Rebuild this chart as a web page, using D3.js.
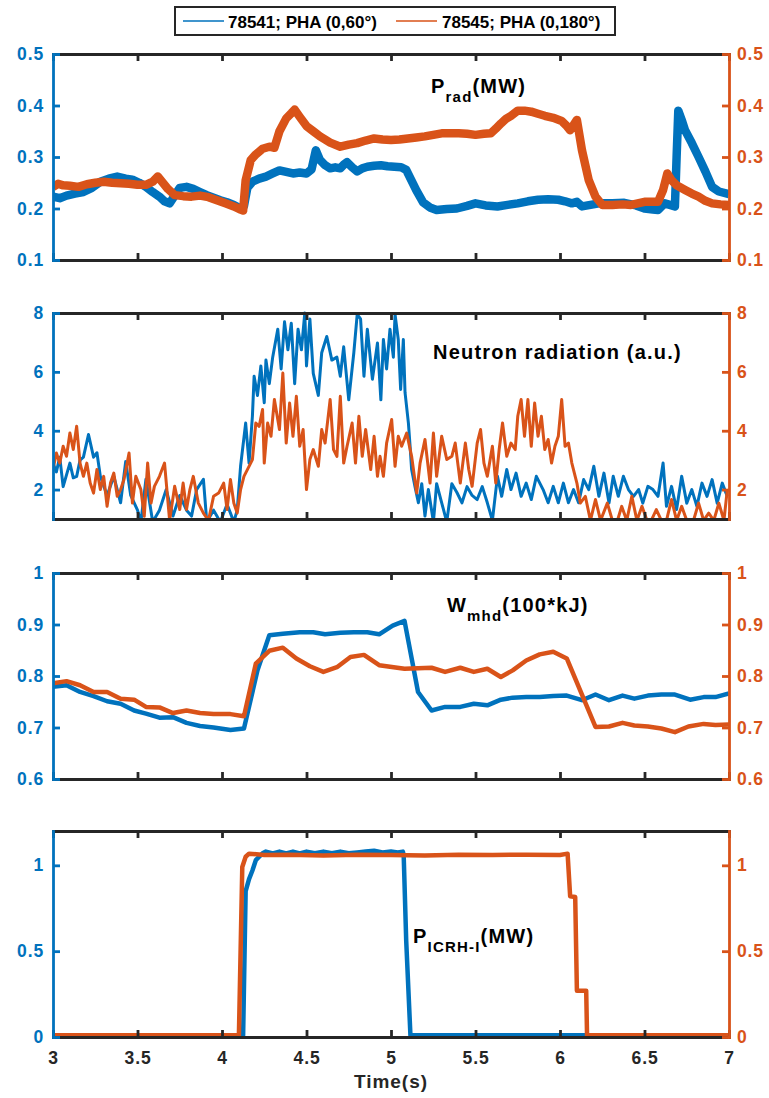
<!DOCTYPE html>
<html>
<head>
<meta charset="utf-8">
<script src="https://cdn.jsdelivr.net/npm/d3@7"></script>
<style>
  body { margin: 0; background: #fff; }
  svg text { font-family: "Liberation Sans", Arial, sans-serif; font-weight: bold; }
</style>
</head>
<body>
<svg id="fig" width="769" height="1098"></svg>
<script>
// shot labels
var shotNames = ['78541; PHA (0,60°)', '78545; PHA (0,180°)'];
var timeTicks = [3, 3.5, 4, 4.5, 5, 5.5, 6, 6.5, 7];

// P_rad (MW)
var prad78541 = [[3.00,0.223],[3.04,0.220],[3.08,0.225],[3.13,0.229],[3.18,0.232],[3.23,0.240],[3.28,0.252],[3.33,0.258],[3.38,0.262],[3.43,0.258],[3.47,0.256],[3.51,0.250],[3.55,0.242],[3.59,0.232],[3.63,0.223],[3.66,0.214],[3.69,0.210],[3.72,0.225],[3.75,0.240],[3.79,0.242],[3.83,0.238],[3.87,0.232],[3.91,0.226],[3.95,0.221],[3.99,0.216],[4.03,0.212],[4.07,0.207],[4.11,0.200],[4.13,0.205],[4.15,0.240],[4.18,0.252],[4.22,0.258],[4.26,0.262],[4.30,0.268],[4.34,0.274],[4.38,0.271],[4.42,0.268],[4.46,0.270],[4.50,0.268],[4.53,0.276],[4.555,0.313],[4.58,0.294],[4.61,0.284],[4.64,0.278],[4.67,0.280],[4.70,0.278],[4.72,0.285],[4.74,0.290],[4.77,0.280],[4.80,0.272],[4.83,0.278],[4.86,0.281],[4.90,0.283],[4.94,0.284],[4.98,0.282],[5.02,0.281],[5.06,0.280],[5.09,0.275],[5.12,0.255],[5.15,0.235],[5.19,0.212],[5.23,0.202],[5.27,0.197],[5.33,0.199],[5.39,0.200],[5.45,0.205],[5.50,0.210],[5.56,0.206],[5.63,0.204],[5.69,0.207],[5.75,0.210],[5.81,0.214],[5.87,0.217],[5.93,0.218],[5.99,0.217],[6.03,0.214],[6.07,0.210],[6.10,0.213],[6.13,0.204],[6.18,0.207],[6.23,0.210],[6.31,0.210],[6.38,0.211],[6.45,0.206],[6.50,0.200],[6.55,0.198],[6.58,0.197],[6.62,0.210],[6.66,0.206],[6.68,0.204],[6.69,0.300],[6.70,0.390],[6.72,0.372],[6.74,0.352],[6.78,0.327],[6.82,0.300],[6.86,0.272],[6.90,0.242],[6.94,0.233],[7.00,0.228]];
var prad78545 = [[3.00,0.242],[3.03,0.248],[3.06,0.245],[3.10,0.244],[3.15,0.242],[3.20,0.247],[3.25,0.250],[3.30,0.252],[3.35,0.250],[3.40,0.249],[3.45,0.248],[3.50,0.246],[3.55,0.246],[3.59,0.252],[3.62,0.262],[3.65,0.250],[3.68,0.238],[3.72,0.226],[3.77,0.224],[3.82,0.223],[3.87,0.225],[3.92,0.222],[3.97,0.216],[4.02,0.210],[4.07,0.204],[4.11,0.198],[4.125,0.196],[4.14,0.255],[4.17,0.294],[4.20,0.305],[4.24,0.316],[4.28,0.320],[4.31,0.318],[4.34,0.350],[4.38,0.375],[4.41,0.385],[4.43,0.392],[4.46,0.378],[4.50,0.360],[4.54,0.350],[4.58,0.340],[4.64,0.328],[4.70,0.320],[4.75,0.324],[4.80,0.327],[4.85,0.332],[4.90,0.336],[4.95,0.334],[5.00,0.333],[5.05,0.334],[5.10,0.336],[5.15,0.338],[5.20,0.340],[5.25,0.343],[5.30,0.346],[5.35,0.346],[5.40,0.346],[5.45,0.345],[5.50,0.343],[5.55,0.345],[5.59,0.346],[5.62,0.355],[5.65,0.365],[5.68,0.374],[5.71,0.380],[5.75,0.390],[5.79,0.390],[5.83,0.388],[5.87,0.384],[5.91,0.380],[5.96,0.376],[6.01,0.370],[6.04,0.360],[6.06,0.352],[6.08,0.362],[6.10,0.372],[6.13,0.313],[6.17,0.255],[6.21,0.223],[6.25,0.207],[6.31,0.207],[6.37,0.208],[6.42,0.207],[6.46,0.210],[6.50,0.213],[6.55,0.213],[6.58,0.213],[6.61,0.236],[6.635,0.268],[6.66,0.255],[6.69,0.245],[6.74,0.236],[6.78,0.229],[6.82,0.223],[6.86,0.215],[6.90,0.210],[6.95,0.208],[7.00,0.207]];
var pradTicks = [0.1, 0.2, 0.3, 0.4, 0.5];

// Neutron radiation (a.u.)
var neut78541 = [[3.00,2.9],[3.02,2.6],[3.04,3.1],[3.06,2.1],[3.08,2.5],[3.10,2.9],[3.12,2.4],[3.14,2.45],[3.16,3.0],[3.18,3.1],[3.21,3.87],[3.24,3.1],[3.26,3.25],[3.28,2.45],[3.32,1.8],[3.36,2.45],[3.40,1.55],[3.43,2.95],[3.46,1.8],[3.50,1.3],[3.52,0.9],[3.55,2.35],[3.59,0.9],[3.63,1.3],[3.67,2.0],[3.71,1.1],[3.75,1.8],[3.79,1.3],[3.82,1.1],[3.85,2.0],[3.89,2.35],[3.91,0.9],[3.95,1.3],[3.99,0.9],[4.03,1.5],[4.07,0.9],[4.09,1.3],[4.11,2.8],[4.14,4.26],[4.16,2.9],[4.18,4.5],[4.19,5.85],[4.21,5.2],[4.23,6.2],[4.25,4.95],[4.26,6.4],[4.28,5.6],[4.30,6.5],[4.33,7.45],[4.35,6.1],[4.37,7.7],[4.39,6.75],[4.41,7.65],[4.43,5.6],[4.45,7.45],[4.47,6.75],[4.49,8.0],[4.50,6.2],[4.52,7.8],[4.54,5.95],[4.57,5.2],[4.59,6.65],[4.62,7.2],[4.65,6.4],[4.68,6.5],[4.70,5.85],[4.72,6.85],[4.75,5.05],[4.78,6.65],[4.80,7.95],[4.82,7.8],[4.84,5.85],[4.86,7.45],[4.89,5.75],[4.92,6.98],[4.94,5.05],[4.955,7.1],[4.974,6.1],[4.994,7.45],[5.014,6.5],[5.024,7.95],[5.043,7.1],[5.057,5.4],[5.073,7.1],[5.083,5.3],[5.103,4.26],[5.113,3.47],[5.122,2.68],[5.142,2.1],[5.162,1.55],[5.182,2.2],[5.201,1.1],[5.221,2.0],[5.251,0.9],[5.27,2.2],[5.30,1.55],[5.33,0.9],[5.36,2.2],[5.39,1.9],[5.42,1.55],[5.45,2.1],[5.48,1.8],[5.51,1.66],[5.54,2.1],[5.57,1.55],[5.60,0.95],[5.63,2.45],[5.655,1.77],[5.685,2.68],[5.71,2.0],[5.74,2.56],[5.77,1.77],[5.80,2.22],[5.83,1.66],[5.86,2.45],[5.90,2.0],[5.93,1.55],[5.96,2.11],[5.99,1.55],[6.02,2.22],[6.05,1.55],[6.08,2.0],[6.11,1.55],[6.14,2.34],[6.17,2.0],[6.20,2.79],[6.23,1.77],[6.26,2.56],[6.29,1.54],[6.315,2.45],[6.345,1.77],[6.375,2.45],[6.405,2.0],[6.435,1.77],[6.465,2.0],[6.49,1.54],[6.52,2.11],[6.55,2.0],[6.58,1.77],[6.61,2.9],[6.63,1.43],[6.66,2.11],[6.69,1.32],[6.72,2.45],[6.75,1.54],[6.78,2.0],[6.81,1.43],[6.84,2.22],[6.87,1.77],[6.90,2.34],[6.93,1.54],[6.96,2.22],[6.99,1.77]];
var neut78545 = [[3.00,2.68],[3.02,3.24],[3.04,2.9],[3.06,3.47],[3.08,3.13],[3.10,3.92],[3.12,3.36],[3.14,4.15],[3.16,2.9],[3.18,2.45],[3.20,2.9],[3.22,2.22],[3.24,1.88],[3.26,2.68],[3.28,2.0],[3.30,2.45],[3.32,1.43],[3.34,2.22],[3.36,2.56],[3.38,1.77],[3.40,2.0],[3.42,2.34],[3.45,3.24],[3.47,1.54],[3.49,2.45],[3.52,2.0],[3.54,1.09],[3.56,2.9],[3.58,1.54],[3.60,2.11],[3.63,2.45],[3.66,2.9],[3.69,0.95],[3.72,2.11],[3.75,1.32],[3.77,2.22],[3.79,1.32],[3.81,2.0],[3.83,2.45],[3.86,1.54],[3.89,1.2],[3.92,0.95],[3.95,1.77],[3.98,1.88],[4.01,2.22],[4.03,1.32],[4.05,2.34],[4.07,1.54],[4.09,1.2],[4.11,2.0],[4.13,2.45],[4.16,2.79],[4.18,3.02],[4.20,4.26],[4.22,4.15],[4.24,4.72],[4.25,2.9],[4.27,4.26],[4.29,3.81],[4.31,5.06],[4.34,4.04],[4.36,5.96],[4.38,3.58],[4.40,4.94],[4.42,3.81],[4.44,5.17],[4.46,3.47],[4.48,4.04],[4.50,2.0],[4.52,3.02],[4.54,3.36],[4.57,2.79],[4.59,4.04],[4.61,3.58],[4.64,5.06],[4.66,3.36],[4.68,3.13],[4.70,5.17],[4.72,2.9],[4.74,3.47],[4.77,4.26],[4.79,2.9],[4.81,4.49],[4.83,3.13],[4.85,4.04],[4.88,2.68],[4.90,3.81],[4.92,2.45],[4.935,3.13],[4.955,2.45],[4.974,3.58],[5.004,4.38],[5.024,2.79],[5.043,3.81],[5.063,3.47],[5.093,3.92],[5.122,3.13],[5.152,1.88],[5.172,2.9],[5.201,3.7],[5.231,2.22],[5.251,3.92],[5.27,2.45],[5.30,3.81],[5.33,3.02],[5.36,3.13],[5.38,3.58],[5.41,2.22],[5.44,3.58],[5.46,2.68],[5.48,2.11],[5.51,3.58],[5.53,4.04],[5.55,2.9],[5.57,2.45],[5.60,3.47],[5.62,2.22],[5.64,3.36],[5.66,4.26],[5.685,3.13],[5.71,3.58],[5.735,3.36],[5.75,4.49],[5.77,5.06],[5.79,3.81],[5.81,5.06],[5.83,3.47],[5.85,4.94],[5.87,3.81],[5.89,4.49],[5.91,3.36],[5.93,3.7],[5.95,2.9],[5.97,3.47],[5.99,3.81],[6.01,5.06],[6.03,3.47],[6.05,3.58],[6.07,2.9],[6.10,2.22],[6.12,1.54],[6.15,1.77],[6.18,0.95],[6.21,1.66],[6.24,0.95],[6.28,1.54],[6.31,0.95],[6.34,0.95],[6.365,1.43],[6.395,0.95],[6.425,1.77],[6.455,0.95],[6.485,1.43],[6.515,0.95],[6.54,0.95],[6.57,1.32],[6.60,0.95],[6.63,0.95],[6.66,1.66],[6.69,0.95],[6.72,1.43],[6.75,0.95],[6.79,0.95],[6.82,1.54],[6.85,0.95],[6.88,1.2],[6.91,0.95],[6.94,1.54],[6.97,0.95],[6.99,2.0]];
var neutTicks = [2, 4, 6, 8];

// W_mhd (100*kJ)
var wmhd78541 = [[3.00,0.779],[3.08,0.782],[3.16,0.769],[3.24,0.761],[3.32,0.751],[3.40,0.746],[3.48,0.733],[3.55,0.727],[3.63,0.719],[3.71,0.720],[3.79,0.709],[3.87,0.703],[3.95,0.700],[4.05,0.695],[4.13,0.698],[4.21,0.811],[4.28,0.879],[4.36,0.882],[4.46,0.885],[4.54,0.885],[4.61,0.881],[4.70,0.884],[4.78,0.885],[4.86,0.885],[4.93,0.881],[5.01,0.898],[5.08,0.907],[5.16,0.769],[5.24,0.733],[5.32,0.740],[5.41,0.740],[5.49,0.746],[5.57,0.743],[5.65,0.754],[5.72,0.758],[5.80,0.759],[5.88,0.759],[5.96,0.761],[6.04,0.762],[6.13,0.753],[6.21,0.764],[6.29,0.753],[6.37,0.762],[6.44,0.756],[6.52,0.762],[6.60,0.764],[6.68,0.764],[6.77,0.754],[6.85,0.759],[6.92,0.759],[7.00,0.766]];
var wmhd78545 = [[3.00,0.786],[3.08,0.790],[3.16,0.782],[3.24,0.769],[3.32,0.769],[3.40,0.756],[3.48,0.754],[3.55,0.740],[3.63,0.739],[3.71,0.728],[3.79,0.733],[3.87,0.728],[3.95,0.726],[4.05,0.726],[4.13,0.722],[4.20,0.824],[4.28,0.849],[4.36,0.855],[4.44,0.834],[4.52,0.819],[4.60,0.808],[4.68,0.817],[4.76,0.837],[4.84,0.841],[4.93,0.821],[5.08,0.814],[5.16,0.815],[5.24,0.816],[5.32,0.808],[5.41,0.816],[5.49,0.808],[5.57,0.814],[5.65,0.798],[5.72,0.811],[5.80,0.830],[5.88,0.842],[5.96,0.847],[6.04,0.834],[6.21,0.701],[6.29,0.702],[6.37,0.709],[6.44,0.704],[6.52,0.702],[6.60,0.698],[6.68,0.691],[6.76,0.702],[6.85,0.707],[6.92,0.705],[7.00,0.706]];
var wmhdTicks = [0.6, 0.7, 0.8, 0.9, 1];

// P_ICRH-I (MW)
var icrh78541 = [[3.00,0.01],[4.125,0.01],[4.14,0.85],[4.16,0.92],[4.18,0.97],[4.20,1.03],[4.22,1.05],[4.24,1.07],[4.26,1.08],[4.30,1.07],[4.34,1.08],[4.38,1.07],[4.42,1.08],[4.46,1.07],[4.50,1.08],[4.55,1.07],[4.60,1.08],[4.65,1.07],[4.70,1.08],[4.75,1.07],[4.80,1.075],[4.85,1.08],[4.90,1.085],[4.95,1.075],[5.00,1.08],[5.04,1.075],[5.07,1.08],[5.075,1.06],[5.09,0.56],[5.115,0.01],[7.00,0.01]];
var icrh78545 = [[3.00,0.01],[4.10,0.01],[4.12,0.99],[4.14,1.05],[4.16,1.068],[4.25,1.06],[4.40,1.062],[4.60,1.058],[4.80,1.062],[5.00,1.06],[5.20,1.058],[5.40,1.062],[5.60,1.06],[5.80,1.062],[6.00,1.06],[6.045,1.068],[6.06,0.82],[6.09,0.815],[6.10,0.27],[6.155,0.27],[6.16,0.01],[7.00,0.01]];
var icrhTicks = [0, 0.5, 1];

var BLUE = '#0072BD', ORANGE = '#D95319', DARK = '#262626';

var svg = d3.select('#fig');
var left = 53, right = 729, panelH = 206;
var x = d3.scaleLinear().domain([3, 7]).range([left, right]);

var panels = [
    { top: 54,  domain: [0.1, 0.5], ticks: pradTicks, blue: prad78541, orange: prad78545, lw: 8.5,
      title: { x: 431, y: 93, main: 'P', sub: 'rad', rest: '(MW)' } },
    { top: 313, domain: [1, 8], ticks: neutTicks, blue: neut78541, orange: neut78545, lw: 3,
      title: { x: 433, y: 359, main: 'Neutron radiation (a.u.)' } },
    { top: 573, domain: [0.6, 1], ticks: wmhdTicks, blue: wmhd78541, orange: wmhd78545, lw: 4.5,
      title: { x: 447, y: 612, main: 'W', sub: 'mhd', rest: '(100*kJ)' } },
    { top: 831, domain: [0, 1.2], ticks: icrhTicks, blue: icrh78541, orange: icrh78545, lw: 4.5,
      title: { x: 413, y: 943, main: 'P', sub: 'ICRH-I', rest: '(MW)' } }
];

var fmt = d3.format('~g');

panels.forEach(function(p, i) {
    var bottom = p.top + panelH;
    var y = d3.scaleLinear().domain(p.domain).range([bottom, p.top]);
    var g = svg.append('g');

    g.append('clipPath').attr('id', 'clip' + i)
        .append('rect').attr('x', left).attr('y', p.top - 3)
        .attr('width', right - left).attr('height', panelH + 3);

    var line = d3.line().x(function(d) { return x(d[0]); }).y(function(d) { return y(d[1]); });

    [[p.blue, BLUE], [p.orange, ORANGE]].forEach(function(s) {
        g.append('path').datum(s[0])
            .attr('clip-path', 'url(#clip' + i + ')')
            .attr('fill', 'none').attr('stroke', s[1])
            .attr('stroke-width', p.lw).attr('stroke-linejoin', 'round')
            .attr('d', line);
    });

    // frame: top and bottom time axes
    var top = g.append('g').attr('transform', 'translate(0,' + p.top + ')')
        .call(d3.axisTop(x).tickValues(timeTicks).tickSize(-7).tickSizeOuter(0).tickFormat(''));
    var bot = g.append('g').attr('transform', 'translate(0,' + bottom + ')')
        .call(d3.axisBottom(x).tickValues(timeTicks).tickSize(-7).tickSizeOuter(0).tickPadding(15)
            .tickFormat(i === panels.length - 1 ? fmt : ''));
    [top, bot].forEach(function(a) { a.style('color', DARK); });

    var yl = g.append('g').attr('transform', 'translate(' + left + ',0)')
        .call(d3.axisLeft(y).tickValues(p.ticks).tickSize(-7).tickSizeOuter(0).tickPadding(9).tickFormat(fmt))
        .style('color', BLUE);
    var yr = g.append('g').attr('transform', 'translate(' + right + ',0)')
        .call(d3.axisRight(y).tickValues(p.ticks).tickSize(-7).tickSizeOuter(0).tickPadding(8).tickFormat(fmt))
        .style('color', ORANGE);

    [top, bot, yl, yr].forEach(function(a) {
        a.attr('font-family', null).attr('font-size', 17.5);
        a.selectAll('.domain').attr('stroke-width', 2.8).attr('stroke-linecap', 'square');
        a.selectAll('.tick line').attr('stroke-width', 2.8);
        a.selectAll('text').style('letter-spacing', '0.05em');
    });

    // panel title
    var t = p.title;
    var txt = g.append('text').attr('x', t.x).attr('y', t.y)
        .attr('font-size', 20).attr('fill', '#000').style('letter-spacing', '0.06em');
    txt.append('tspan').text(t.main);
    if (t.sub) {
        txt.append('tspan').attr('font-size', 15).attr('dy', 9).text(t.sub);
        txt.append('tspan').attr('dy', -9).text(t.rest);
    }
});

// x label
svg.append('text').attr('x', 391).attr('y', 1088).attr('text-anchor', 'middle')
    .attr('font-size', 19).attr('fill', DARK).style('letter-spacing', '0.05em')
    .text('Time(s)');

// legend
var leg = svg.append('g');
leg.append('rect').attr('x', 175).attr('y', 7).attr('width', 440).attr('height', 28)
    .attr('fill', '#fff').attr('stroke', DARK).attr('stroke-width', 2);
[[183, 228, BLUE], [396, 442, ORANGE]].forEach(function(e, k) {
    leg.append('line').attr('x1', e[0]).attr('x2', e[0] + 41).attr('y1', 21).attr('y2', 21)
        .attr('stroke', e[2]).attr('stroke-width', 1.5);
    leg.append('text').attr('x', e[1]).attr('y', 27.5).attr('font-size', 17).attr('fill', '#000')
        .text(shotNames[k]);
});
</script>
</body>
</html>
